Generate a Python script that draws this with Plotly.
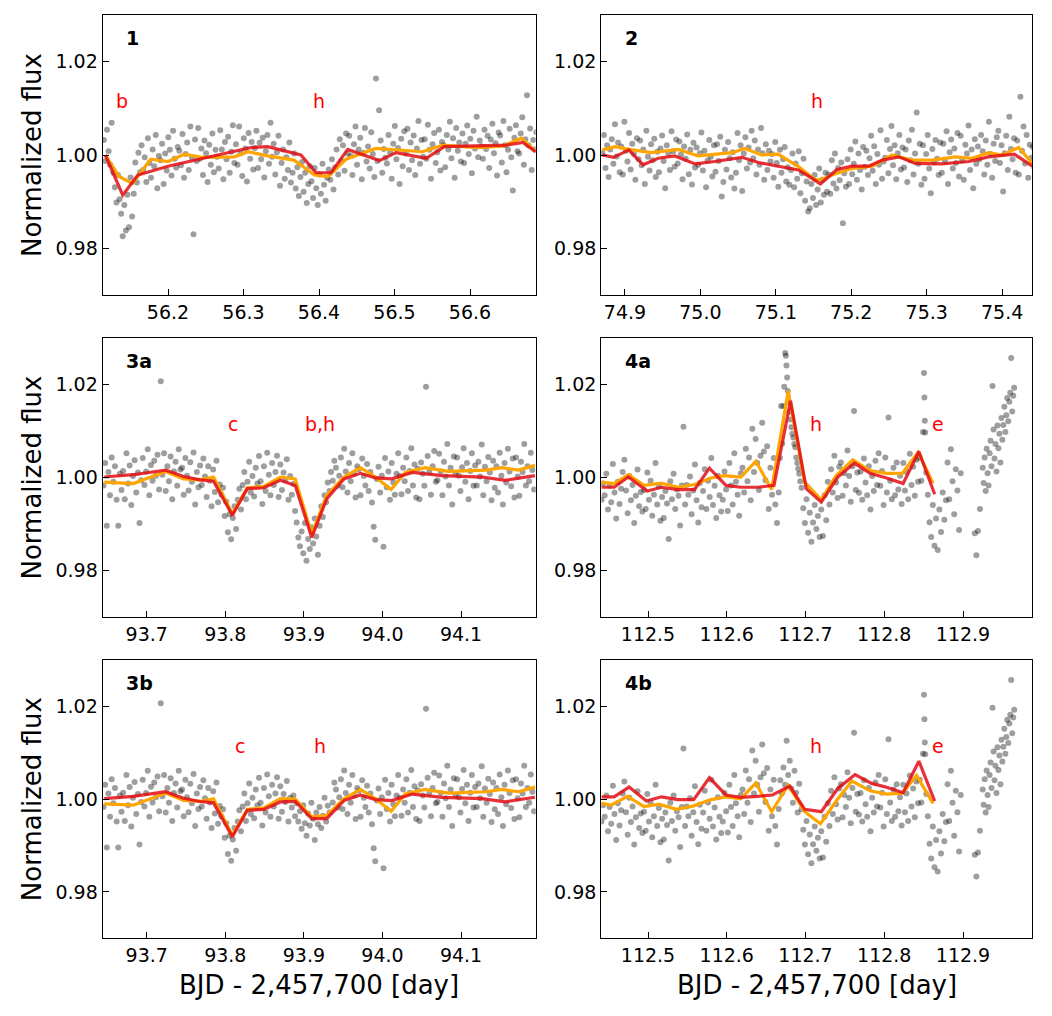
import plotly.graph_objects as go
from plotly.subplots import make_subplots

# ---------------- Panel 1 data ----------------
P1_T = [56.1150,56.1171,56.1192,56.1213,56.1233,56.1254,56.1275,56.1296,56.1317,56.1338,56.1358,56.1379,
56.1400,56.1421,56.1442,56.1463,56.1483,56.1504,56.1525,56.1546,56.1567,56.1588,56.1608,56.1629,
56.1650,56.1671,56.1692,56.1713,56.1733,56.1754,56.1775,56.1796,56.1817,56.1838,56.1858,56.1879,
56.1900,56.1921,56.1942,56.1963,56.1983,56.2004,56.2025,56.2046,56.2067,56.2088,56.2108,56.2129,
56.2150,56.2171,56.2192,56.2213,56.2233,56.2254,56.2275,56.2296,56.2317,56.2338,56.2358,56.2379,
56.2400,56.2421,56.2442,56.2463,56.2483,56.2504,56.2525,56.2546,56.2567,56.2588,56.2608,56.2629,
56.2650,56.2671,56.2692,56.2713,56.2733,56.2754,56.2775,56.2796,56.2817,56.2838,56.2858,56.2879,
56.2900,56.2921,56.2942,56.2963,56.2983,56.3004,56.3025,56.3046,56.3067,56.3088,56.3108,56.3129,
56.3150,56.3171,56.3192,56.3213,56.3233,56.3254,56.3275,56.3296,56.3317,56.3338,56.3358,56.3379,
56.3400,56.3421,56.3442,56.3463,56.3483,56.3504,56.3525,56.3546,56.3567,56.3588,56.3608,56.3629,
56.3650,56.3671,56.3692,56.3713,56.3733,56.3754,56.3775,56.3796,56.3817,56.3838,56.3858,56.3879,
56.3900,56.3921,56.3942,56.3963,56.3983,56.4004,56.4025,56.4046,56.4067,56.4088,56.4108,56.4129,
56.4150,56.4171,56.4192,56.4213,56.4233,56.4254,56.4275,56.4296,56.4317,56.4338,56.4358,56.4379,
56.4400,56.4421,56.4442,56.4463,56.4483,56.4504,56.4525,56.4546,56.4567,56.4588,56.4608,56.4629,
56.4650,56.4671,56.4692,56.4713,56.4733,56.4754,56.4775,56.4796,56.4817,56.4838,56.4858,56.4879,
56.4900,56.4921,56.4942,56.4963,56.4983,56.5004,56.5025,56.5046,56.5067,56.5088,56.5108,56.5129,
56.5150,56.5171,56.5192,56.5213,56.5233,56.5254,56.5275,56.5296,56.5317,56.5338,56.5358,56.5379,
56.5400,56.5421,56.5442,56.5463,56.5483,56.5504,56.5525,56.5546,56.5567,56.5588,56.5608,56.5629,
56.5650,56.5671,56.5692,56.5713,56.5733,56.5754,56.5775,56.5796,56.5817,56.5838,56.5858,56.5879,
56.5900,56.5921,56.5942,56.5963,56.5983,56.6004,56.6025,56.6046,56.6067,56.6088,56.6108,56.6129,
56.6150,56.6171,56.6192,56.6213,56.6233,56.6254,56.6275,56.6296,56.6317,56.6338,56.6358,56.6379,
56.6400,56.6421,56.6442,56.6463,56.6483,56.6504,56.6525,56.6546,56.6567,56.6588,56.6608,56.6629,
56.6650,56.6671,56.6692,56.6713,56.6733,56.6754,56.6775,56.6796,56.6817,56.6838,56.6858,56.6879]
P1_F = [1.0032,0.9987,1.0054,1.0008,0.9979,1.0069,0.9962,0.9931,0.9898,0.9957,0.9905,0.9874,
0.9826,0.9893,0.9838,0.9915,0.9845,0.9952,0.9868,0.9917,0.9984,0.9941,1.0005,0.9963,
1.0021,0.9968,0.9995,0.9942,1.0036,0.9983,0.9951,1.0012,0.9976,1.0043,0.9929,0.9998,
0.9989,1.0024,0.9938,1.0003,0.9967,1.0038,1.0011,0.9956,1.0052,0.9992,0.9973,1.0017,
1.0009,0.9978,1.0045,0.9951,1.0002,1.0027,0.9968,1.0061,0.9994,0.9830,1.0033,0.9987,
1.0058,0.9992,1.0014,0.9957,1.0031,1.0004,0.9942,1.0022,0.9979,1.0046,0.9963,1.0011,
0.9996,0.9971,1.0053,1.0012,0.9948,1.0028,0.9991,1.0039,0.9962,1.0007,1.0064,0.9983,
1.0023,0.9979,1.0061,1.0004,0.9955,1.0036,1.0014,0.9943,1.0047,0.9992,1.0028,0.9969,
1.0015,1.0052,0.9972,1.0026,0.9991,1.0037,0.9952,1.0008,1.0043,0.9981,1.0069,0.9996,
1.0024,0.9958,1.0006,1.0041,0.9934,0.9983,1.0012,0.9949,0.9995,0.9968,1.0027,0.9941,
0.9962,1.0003,0.9928,0.9974,0.9912,0.9953,0.9985,0.9921,0.9962,0.9897,0.9938,0.9976,
0.9944,0.9908,0.9972,0.9929,0.9893,0.9958,0.9917,0.9981,0.9936,0.9902,0.9951,0.9969,
0.9947,0.9991,0.9926,0.9973,1.0012,0.9958,1.0034,0.9987,1.0021,0.9966,1.0046,1.0003,
1.0041,0.9998,0.9957,1.0023,1.0061,0.9979,1.0012,1.0037,0.9948,1.0005,1.0058,0.9986,
1.0018,0.9971,1.0049,1.0002,0.9953,1.0164,0.9987,1.0096,1.0031,0.9962,1.0013,0.9994,
0.9982,1.0043,1.0006,0.9949,1.0024,1.0062,0.9991,1.0015,0.9938,1.0035,0.9976,1.0051,
1.0003,1.0056,0.9968,1.0027,0.9989,1.0042,0.9957,1.0014,1.0073,0.9981,1.0032,0.9996,
1.0034,0.9992,1.0065,1.0011,0.9949,1.0023,1.0047,0.9983,1.0006,1.0054,0.9967,1.0028,
1.0021,0.9974,1.0043,1.0012,1.0071,0.9993,1.0036,0.9951,1.0058,1.0009,1.0027,0.9986,
1.0046,0.9983,1.0024,1.0063,1.0002,1.0035,0.9961,1.0052,1.0014,1.0082,0.9995,1.0031,
1.0019,0.9992,1.0054,1.0013,1.0041,0.9972,1.0033,1.0067,1.0004,1.0025,0.9956,1.0048,
1.0042,0.9984,1.0073,1.0021,0.9963,1.0011,1.0056,0.9995,0.9924,1.0037,1.0064,1.0008,
1.0003,1.0046,1.0081,0.9979,1.0034,1.0128,1.0021,1.0057,0.9968,1.0032,1.0012,1.0049]
R1_T = [56.117,56.140,56.160,56.200,56.266,56.310,56.332,56.376,56.396,56.416,56.438,56.480,56.502,56.542,56.566,56.608,56.648,56.670,56.687]
R1_F = [1.0000,0.9914,0.9957,0.9976,1.0000,1.0016,1.0018,1.0000,0.9962,0.9962,1.0012,0.9988,1.0005,0.9993,1.0018,1.0019,1.0021,1.0027,1.0007]
O1_T = [56.117,56.135,56.153,56.177,56.200,56.222,56.244,56.288,56.306,56.332,56.367,56.394,56.412,56.436,56.475,56.537,56.564,56.608,56.643,56.668,56.687]
O1_F = [1.0000,0.9954,0.9939,0.9991,0.9986,1.0002,0.9995,0.9996,1.0007,0.9998,0.9989,0.9957,0.9954,0.9991,1.0014,1.0007,1.0021,1.0016,1.0019,1.0036,1.0007]

# ---------------- Panel 2 data ----------------
P2_T = [74.8700,74.8721,74.8742,74.8763,74.8783,74.8804,74.8825,74.8846,74.8867,74.8888,74.8908,74.8929,
74.8950,74.8971,74.8992,74.9013,74.9033,74.9054,74.9075,74.9096,74.9117,74.9138,74.9158,74.9179,
74.9200,74.9221,74.9242,74.9263,74.9283,74.9304,74.9325,74.9346,74.9367,74.9388,74.9408,74.9429,
74.9450,74.9471,74.9492,74.9513,74.9533,74.9554,74.9575,74.9596,74.9617,74.9638,74.9658,74.9679,
74.9700,74.9721,74.9742,74.9763,74.9783,74.9804,74.9825,74.9846,74.9867,74.9888,74.9908,74.9929,
74.9950,74.9971,74.9992,75.0013,75.0033,75.0054,75.0075,75.0096,75.0117,75.0138,75.0158,75.0179,
75.0200,75.0221,75.0242,75.0263,75.0283,75.0304,75.0325,75.0346,75.0367,75.0388,75.0408,75.0429,
75.0450,75.0471,75.0492,75.0513,75.0533,75.0554,75.0575,75.0596,75.0617,75.0638,75.0658,75.0679,
75.0700,75.0721,75.0742,75.0763,75.0783,75.0804,75.0825,75.0846,75.0867,75.0888,75.0908,75.0929,
75.0950,75.0971,75.0992,75.1013,75.1033,75.1054,75.1075,75.1096,75.1117,75.1138,75.1158,75.1179,
75.1200,75.1221,75.1242,75.1263,75.1283,75.1304,75.1325,75.1346,75.1367,75.1388,75.1408,75.1429,
75.1450,75.1471,75.1492,75.1513,75.1533,75.1554,75.1575,75.1596,75.1617,75.1638,75.1658,75.1679,
75.1700,75.1721,75.1742,75.1763,75.1783,75.1804,75.1825,75.1846,75.1867,75.1888,75.1908,75.1929,
75.1950,75.1971,75.1992,75.2013,75.2033,75.2054,75.2075,75.2096,75.2117,75.2138,75.2158,75.2179,
75.2200,75.2221,75.2242,75.2263,75.2283,75.2304,75.2325,75.2346,75.2367,75.2388,75.2408,75.2429,
75.2450,75.2471,75.2492,75.2513,75.2533,75.2554,75.2575,75.2596,75.2617,75.2638,75.2658,75.2679,
75.2700,75.2721,75.2742,75.2763,75.2783,75.2804,75.2825,75.2846,75.2867,75.2888,75.2908,75.2929,
75.2950,75.2971,75.2992,75.3013,75.3033,75.3054,75.3075,75.3096,75.3117,75.3138,75.3158,75.3179,
75.3200,75.3221,75.3242,75.3263,75.3283,75.3304,75.3325,75.3346,75.3367,75.3388,75.3408,75.3429,
75.3450,75.3471,75.3492,75.3513,75.3533,75.3554,75.3575,75.3596,75.3617,75.3638,75.3658,75.3679,
75.3700,75.3721,75.3742,75.3763,75.3783,75.3804,75.3825,75.3846,75.3867,75.3888,75.3908,75.3929,
75.3950,75.3971,75.3992,75.4013,75.4033,75.4054,75.4075,75.4096,75.4117,75.4138,75.4158,75.4179,
75.4200,75.4221,75.4242,75.4263,75.4283,75.4304,75.4325,75.4346,75.4367,75.4388,75.4408,75.4429]
P2_F = [1.0004,1.0043,0.9972,1.0021,0.9953,1.0012,1.0034,0.9981,1.0066,0.9997,1.0027,0.9963,
1.0018,0.9958,1.0071,1.0009,0.9986,1.0047,0.9969,1.0024,1.0002,0.9947,1.0036,0.9991,
1.0031,0.9978,1.0012,0.9938,1.0052,0.9996,0.9967,1.0023,0.9989,1.0035,0.9953,1.0007,
0.9963,1.0014,1.0042,0.9987,0.9929,1.0021,1.0003,0.9968,1.0051,1.0008,0.9975,1.0033,
0.9982,1.0029,1.0001,0.9948,1.0018,0.9992,1.0044,0.9959,1.0011,0.9937,1.0026,0.9973,
1.0016,0.9979,1.0004,1.0048,0.9967,1.0009,0.9931,0.9988,1.0032,0.9996,0.9954,1.0021,
0.9964,1.0023,0.9987,1.0039,0.9911,0.9942,1.0011,0.9969,1.0028,0.9993,0.9952,1.0006,
0.9928,0.9962,1.0047,0.9989,1.0021,0.9923,1.0003,1.0038,0.9971,1.0016,0.9984,1.0052,
0.9993,1.0031,0.9958,1.0012,0.9979,1.0058,1.0004,0.9947,1.0023,0.9968,1.0009,0.9986,
1.0002,0.9951,1.0028,0.9983,0.9932,1.0011,0.9962,0.9991,1.0017,0.9943,0.9974,0.9936,
0.9968,1.0003,0.9931,0.9982,0.9949,1.0008,0.9918,0.9961,0.9992,0.9902,0.9943,0.9879,
0.9886,0.9938,0.9908,0.9957,0.9893,0.9926,0.9971,0.9898,0.9947,0.9915,0.9962,0.9921,
0.9958,0.9917,0.9989,0.9939,1.0003,0.9928,0.9972,0.9946,0.9984,0.9854,0.9961,0.9932,
0.9991,0.9938,1.0012,0.9959,0.9981,1.0029,0.9947,1.0003,0.9968,0.9926,1.0017,0.9975,
1.0009,0.9957,0.9993,1.0041,0.9966,1.0019,0.9938,1.0002,0.9979,1.0053,0.9949,0.9986,
0.9994,1.0032,0.9961,1.0013,1.0062,0.9978,1.0021,0.9948,1.0004,1.0043,0.9969,1.0016,
0.9973,1.0012,0.9942,1.0031,0.9989,1.0054,0.9958,1.0003,1.0091,0.9981,1.0024,0.9936,
1.0021,0.9949,1.0002,1.0043,0.9971,0.9918,1.0013,0.9984,1.0032,0.9992,0.9957,1.0027,
0.9962,1.0024,0.9987,1.0051,0.9938,1.0006,1.0033,0.9971,1.0014,0.9983,1.0047,0.9954,
1.0041,0.9989,0.9947,1.0022,1.0003,1.0063,0.9968,1.0012,0.9929,1.0034,0.9981,1.0018,
0.9991,1.0043,1.0008,0.9958,1.0031,0.9979,1.0071,1.0002,0.9951,1.0024,0.9987,1.0038,
1.0052,0.9983,1.0021,0.9922,1.0004,1.0041,0.9968,1.0082,1.0013,0.9991,1.0036,0.9962,
1.0031,0.9958,1.0125,1.0009,1.0061,0.9982,1.0043,0.9951,1.0022,0.9994,1.0017,0.9972]
R2_T = [74.870,74.885,74.905,74.924,74.944,74.966,74.993,75.019,75.055,75.077,75.103,75.130,75.148,75.159,75.181,75.201,75.223,75.241,75.263,75.285,75.320,75.356,75.382,75.416,75.440]
R2_F = [1.0000,0.9995,1.0011,0.9979,0.9993,0.9998,0.9981,0.9986,0.9995,0.9984,0.9976,0.9968,0.9950,0.9938,0.9969,0.9976,0.9976,0.9989,0.9996,0.9982,0.9981,0.9986,0.9996,1.0002,0.9976]
O2_T = [74.870,74.887,74.905,74.935,74.971,74.997,75.042,75.059,75.081,75.103,75.130,75.152,75.161,75.179,75.201,75.228,75.254,75.280,75.307,75.338,75.360,75.382,75.400,75.422,75.440]
O2_F = [1.0011,1.0018,1.0012,1.0005,1.0012,0.9998,1.0005,1.0014,1.0000,1.0002,0.9975,0.9947,0.9948,0.9960,0.9971,0.9976,1.0000,0.9989,0.9989,0.9996,0.9993,1.0005,1.0000,1.0016,0.9982]

# ---------------- Panel 3 data ----------------
P3_T = [93.6450,93.6471,93.6492,93.6513,93.6533,93.6554,93.6575,93.6596,93.6617,93.6638,93.6658,93.6679,
93.6700,93.6721,93.6742,93.6763,93.6783,93.6804,93.6825,93.6846,93.6867,93.6888,93.6908,93.6929,
93.6950,93.6971,93.6992,93.7013,93.7033,93.7054,93.7075,93.7096,93.7117,93.7138,93.7158,93.7179,
93.7200,93.7221,93.7242,93.7263,93.7283,93.7304,93.7325,93.7346,93.7367,93.7388,93.7408,93.7429,
93.7450,93.7471,93.7492,93.7513,93.7533,93.7554,93.7575,93.7596,93.7617,93.7638,93.7658,93.7679,
93.7700,93.7721,93.7742,93.7763,93.7783,93.7804,93.7825,93.7846,93.7867,93.7888,93.7908,93.7929,
93.7950,93.7971,93.7992,93.8013,93.8033,93.8054,93.8075,93.8096,93.8117,93.8138,93.8158,93.8179,
93.8200,93.8221,93.8242,93.8263,93.8283,93.8304,93.8325,93.8346,93.8367,93.8388,93.8408,93.8429,
93.8450,93.8471,93.8492,93.8513,93.8533,93.8554,93.8575,93.8596,93.8617,93.8638,93.8658,93.8679,
93.8700,93.8721,93.8742,93.8763,93.8783,93.8804,93.8825,93.8846,93.8867,93.8888,93.8908,93.8929,
93.8950,93.8971,93.8992,93.9013,93.9033,93.9054,93.9075,93.9096,93.9117,93.9138,93.9158,93.9179,
93.9200,93.9221,93.9242,93.9263,93.9283,93.9304,93.9325,93.9346,93.9367,93.9388,93.9408,93.9429,
93.9450,93.9471,93.9492,93.9513,93.9533,93.9554,93.9575,93.9596,93.9617,93.9638,93.9658,93.9679,
93.9700,93.9721,93.9742,93.9763,93.9783,93.9804,93.9825,93.9846,93.9867,93.9888,93.9908,93.9929,
93.9950,93.9971,93.9992,94.0013,94.0033,94.0054,94.0075,94.0096,94.0117,94.0138,94.0158,94.0179,
94.0200,94.0221,94.0242,94.0263,94.0283,94.0304,94.0325,94.0346,94.0367,94.0388,94.0408,94.0429,
94.0450,94.0471,94.0492,94.0513,94.0533,94.0554,94.0575,94.0596,94.0617,94.0638,94.0658,94.0679,
94.0700,94.0721,94.0742,94.0763,94.0783,94.0804,94.0825,94.0846,94.0867,94.0888,94.0908,94.0929,
94.0950,94.0971,94.0992,94.1013,94.1033,94.1054,94.1075,94.1096,94.1117,94.1138,94.1158,94.1179,
94.1200,94.1221,94.1242,94.1263,94.1283,94.1304,94.1325,94.1346,94.1367,94.1388,94.1408,94.1429,
94.1450,94.1471,94.1492,94.1513,94.1533,94.1554,94.1575,94.1596,94.1617,94.1638,94.1658,94.1679,
94.1700,94.1721,94.1742,94.1763,94.1783,94.1804,94.1825,94.1846,94.1867,94.1888,94.1908,94.1929]
P3_F = [0.9983,1.0031,0.9896,1.0012,0.9962,1.0043,0.9991,1.0024,0.9952,0.9896,1.0008,0.9973,
1.0014,0.9953,1.0052,0.9987,1.0026,0.9941,1.0003,1.0037,0.9968,1.0011,0.9902,0.9994,
1.0042,0.9984,1.0013,1.0061,0.9962,1.0027,0.9993,1.0036,1.0004,1.0049,0.9974,1.0207,
1.0006,1.0052,0.9971,1.0024,0.9992,1.0045,0.9953,1.0013,1.0034,0.9982,1.0061,1.0017,
1.0021,0.9963,1.0042,1.0004,0.9972,1.0033,0.9991,1.0054,0.9942,1.0012,0.9979,1.0026,
0.9984,1.0041,1.0002,0.9958,1.0024,0.9993,0.9938,1.0017,0.9969,1.0036,0.9947,0.9985,
0.9963,0.9978,0.9917,0.9948,0.9882,0.9921,0.9867,0.9913,0.9938,0.9889,0.9952,0.9976,
0.9931,0.9984,1.0012,0.9953,0.9991,1.0034,0.9968,1.0003,0.9959,1.0021,0.9987,1.0046,
0.9992,0.9943,1.0024,0.9971,1.0053,1.0006,0.9962,1.0031,0.9984,1.0012,1.0047,0.9958,
1.0028,0.9973,1.0011,0.9994,1.0039,0.9952,1.0003,0.9963,0.9986,0.9928,0.9903,0.9871,
0.9852,0.9884,0.9837,0.9902,0.9821,0.9868,0.9846,0.9893,0.9858,0.9912,0.9873,0.9834,
0.9896,0.9938,0.9915,0.9962,0.9947,0.9989,0.9971,1.0012,0.9993,1.0036,1.0021,0.9982,
1.0004,1.0043,0.9979,1.0062,1.0013,0.9968,1.0031,0.9992,1.0052,1.0008,0.9957,1.0024,
1.0018,0.9962,1.0041,1.0003,0.9983,1.0029,0.9971,1.0012,0.9946,0.9894,0.9866,0.9997,
1.0023,0.9968,1.0004,0.9851,1.0042,0.9979,1.0013,0.9952,1.0031,0.9989,0.9963,1.0008,
1.0052,1.0003,0.9964,1.0021,0.9992,1.0043,0.9971,1.0014,1.0063,0.9983,1.0028,0.9957,
1.0019,0.9953,1.0032,1.0008,0.9982,1.0195,1.0046,1.0012,0.9963,1.0024,1.0057,0.9991,
0.9994,1.0051,1.0013,0.9962,1.0034,1.0002,1.0072,0.9983,1.0021,0.9942,1.0045,1.0009,
1.0043,1.0004,0.9971,1.0022,1.0063,0.9991,1.0031,0.9953,1.0014,1.0052,0.9982,1.0026,
0.9983,1.0034,1.0002,1.0071,0.9962,1.0023,0.9992,1.0044,1.0011,0.9951,1.0036,0.9978,
1.0024,0.9968,1.0053,1.0004,0.9942,1.0031,0.9989,1.0062,1.0013,0.9981,1.0041,0.9957,
1.0043,1.0002,0.9961,1.0034,1.0012,1.0072,0.9983,1.0024,0.9992,1.0053,1.0016,0.9974]
# panel 3b: points inside the b-transit window (transit of b removed)
P3B_WIN = [93.8840, 93.9350]
P3B_T = [93.8846,93.8867,93.8888,93.8908,93.8929,93.8950,93.8971,93.8992,93.9013,93.9033,93.9054,93.9075,
93.9096,93.9117,93.9138,93.9158,93.9179,93.9200,93.9221,93.9242,93.9263,93.9283,93.9304,93.9325]
P3B_F = [0.9982,1.0008,0.9963,0.9991,0.9952,0.9974,0.9936,0.9987,0.9948,0.9921,0.9969,0.9943,
0.9992,0.9958,0.9912,0.9971,0.9946,0.9983,0.9938,0.9964,1.0003,0.9952,0.9986,0.9971]

R3A_T = [93.646,93.683,93.724,93.747,93.768,93.785,93.809,93.828,93.849,93.870,93.889,93.910,93.929,93.951,93.972,93.991,94.012,94.038,94.076,94.127,94.156,94.194]
R3A_F = [1.0001,1.0006,1.0016,1.0002,0.9995,0.9992,0.9919,0.9976,0.9978,0.9994,0.9983,0.9871,0.9954,0.9997,1.0009,0.9999,0.9997,1.0011,1.0004,1.0001,0.9994,1.0004]
O3A_T = [93.646,93.683,93.724,93.747,93.768,93.785,93.809,93.828,93.849,93.870,93.889,93.910,93.929,93.951,93.972,93.991,94.011,94.029,94.054,94.084,94.132,94.152,94.173,94.194]
O3A_F = [0.9990,0.9987,1.0013,0.9997,0.9995,1.0001,0.9922,0.9978,0.9981,1.0001,0.9997,0.9878,0.9961,1.0001,1.0021,1.0001,0.9974,1.0011,1.0021,1.0013,1.0016,1.0021,1.0016,1.0026]
R3B_T = [93.646,93.683,93.724,93.747,93.768,93.785,93.809,93.828,93.849,93.870,93.889,93.910,93.929,93.951,93.972,93.991,94.012,94.038,94.076,94.127,94.156,94.194]
R3B_F = [1.0001,1.0006,1.0016,1.0002,0.9995,0.9992,0.9919,0.9976,0.9978,0.9994,0.9995,0.9958,0.9958,0.9997,1.0009,0.9999,0.9997,1.0011,1.0004,1.0001,0.9994,1.0004]
O3B_T = [93.646,93.683,93.724,93.747,93.768,93.785,93.809,93.828,93.849,93.870,93.889,93.910,93.929,93.951,93.972,93.991,94.011,94.029,94.054,94.084,94.132,94.152,94.173,94.194]
O3B_F = [0.9990,0.9987,1.0013,0.9997,0.9995,1.0001,0.9922,0.9978,0.9981,1.0001,1.0000,0.9962,0.9965,1.0001,1.0021,1.0001,0.9974,1.0011,1.0021,1.0013,1.0016,1.0021,1.0016,1.0026]

# ---------------- Panel 4 data ----------------
P4_T = [112.4410,112.4430,
112.4450,112.4471,112.4492,112.4513,112.4533,112.4554,112.4575,112.4596,112.4617,112.4638,112.4658,112.4679,
112.4700,112.4721,112.4742,112.4763,112.4783,112.4804,112.4825,112.4846,112.4867,112.4888,112.4908,112.4929,
112.4950,112.4971,112.4992,112.5013,112.5033,112.5054,112.5075,112.5096,112.5117,112.5138,112.5158,112.5179,
112.5200,112.5221,112.5242,112.5263,112.5283,112.5304,112.5325,112.5346,112.5367,112.5388,112.5408,112.5429,
112.5450,112.5471,112.5492,112.5513,112.5533,112.5554,112.5575,112.5596,112.5617,112.5638,112.5658,112.5679,
112.5700,112.5721,112.5742,112.5763,112.5783,112.5804,112.5825,112.5846,112.5867,112.5888,112.5908,112.5929,
112.5950,112.5971,112.5992,112.6013,112.6033,112.6054,112.6075,112.6096,112.6117,112.6138,112.6158,112.6179,
112.6200,112.6221,112.6242,112.6263,112.6283,112.6304,112.6325,112.6346,112.6367,112.6388,112.6408,112.6429,
112.6450,112.6471,112.6492,112.6513,112.6533,112.6554,112.6575,112.6596,112.6617,112.6638,
112.6660,112.6675,112.6690,112.6705,112.6718,112.6730,112.6742,112.6750,112.6758,112.6767,112.6775,112.6785,
112.6796,112.6808,112.6821,112.6833,112.6846,112.6858,112.6871,112.6883,112.6896,112.6908,112.6921,112.6933,
112.6950,112.6971,112.6992,112.7013,112.7033,112.7054,112.7075,112.7096,112.7117,112.7138,112.7158,112.7179,
112.7200,112.7221,112.7242,112.7263,112.7283,112.7304,112.7325,112.7346,112.7367,112.7388,112.7408,112.7429,
112.7450,112.7471,112.7492,112.7513,112.7533,112.7554,112.7575,112.7596,112.7617,112.7638,112.7658,112.7679,
112.7700,112.7721,112.7742,112.7763,112.7783,112.7804,112.7825,112.7846,112.7867,112.7888,112.7908,112.7929,
112.7950,112.7971,112.7992,112.8013,112.8033,112.8054,112.8075,112.8096,112.8117,112.8138,112.8158,112.8179,
112.8200,112.8221,112.8242,112.8263,112.8283,112.8304,112.8325,112.8346,112.8367,112.8388,112.8408,112.8429,
112.8450,112.8471,112.8492,112.8505,112.8510,112.8515,112.8520,112.8533,
112.8554,112.8575,112.8596,112.8617,112.8638,112.8658,112.8679,112.8700,112.8721,112.8742,112.8763,112.8783,
112.8804,112.8825,112.8846,112.8867,112.8888,112.8908,112.8929,112.8950,112.8971,
112.9150,112.9170,112.9190,112.9215,
112.9250,112.9262,112.9275,112.9288,112.9300,112.9312,112.9325,112.9338,112.9350,112.9362,112.9375,
112.9388,112.9400,112.9412,112.9425,112.9438,112.9450,112.9462,112.9475,112.9488,112.9500,112.9512,
112.9525,112.9538,112.9550,112.9562,112.9575,112.9588,112.9600,112.9612,112.9625,112.9638,112.9650]
P4_F = [0.9952,0.9987,
0.9962,1.0008,0.9931,0.9983,0.9947,1.0029,0.9968,0.9912,0.9991,0.9943,0.9976,1.0012,
1.0038,0.9972,0.9923,1.0003,0.9951,0.9984,0.9902,0.9961,1.0017,0.9938,0.9969,0.9927,
0.9973,0.9932,1.0011,0.9952,0.9993,0.9918,0.9963,1.0031,0.9942,0.9981,0.9907,0.9958,
0.9913,0.9971,0.9944,0.9868,0.9992,0.9953,1.0008,0.9932,0.9974,0.9961,0.9897,0.9983,
1.0109,0.9942,0.9984,0.9963,1.0002,0.9921,0.9972,1.0028,0.9951,0.9903,0.9988,0.9936,
0.9971,1.0018,0.9932,0.9993,0.9958,1.0042,0.9941,0.9982,0.9913,1.0004,0.9962,0.9927,
0.9952,1.0013,0.9974,0.9928,1.0031,0.9983,0.9942,1.0052,0.9991,0.9963,0.9918,1.0009,
1.0021,0.9968,1.0062,0.9992,1.0043,0.9951,1.0105,1.0012,1.0083,1.0031,0.9973,1.0047,
1.0118,1.0056,0.9994,1.0067,0.9932,1.0021,0.9963,1.0042,0.9942,0.9902,
0.9968,1.0042,1.0154,1.0073,1.0154,1.0195,1.0268,1.0262,1.0241,1.0215,1.0186,1.0163,
1.0141,1.0125,1.0108,1.0094,1.0086,1.0072,1.0065,1.0043,1.0031,1.0019,1.0008,0.9992,
0.9978,0.9934,0.9902,0.9953,0.9881,0.9924,0.9862,0.9903,0.9941,0.9889,0.9917,0.9872,
0.9931,0.9874,0.9962,0.9908,0.9991,0.9942,1.0018,0.9968,1.0047,0.9989,0.9956,1.0023,
1.0032,0.9961,1.0009,0.9983,1.0058,1.0003,0.9948,1.0024,1.0143,0.9973,1.0011,0.9967,
1.0013,0.9952,1.0041,0.9989,0.9962,1.0024,0.9931,1.0003,0.9971,1.0036,0.9984,1.0052,
0.9982,1.0014,0.9941,1.0043,0.9968,1.0129,0.9993,0.9953,1.0021,0.9962,1.0032,0.9974,
1.0004,0.9943,1.0031,0.9972,1.0012,0.9953,1.0051,0.9984,1.0023,0.9961,1.0038,0.9991,
1.0042,0.9993,1.0098,1.0225,1.0172,1.0122,1.0097,1.0011,
0.9963,0.9904,0.9872,0.9941,0.9853,0.9912,0.9844,0.9931,0.9883,0.9968,0.9909,0.9951,
1.0032,0.9953,1.0061,0.9992,0.9921,1.0018,0.9972,0.9887,1.0009,
0.9880,0.9833,0.9885,0.9932,
1.0021,0.9988,1.0043,0.9971,1.0062,1.0009,0.9983,1.0052,1.0079,1.0024,1.0197,
1.0103,1.0041,1.0072,1.0013,1.0112,1.0063,1.0094,1.0032,1.0128,1.0081,1.0113,
1.0152,1.0098,1.0134,1.0171,1.0121,1.0163,1.0182,1.0257,1.0142,1.0176,1.0193]
# panel 4b: points inside the flare window (flare removed)
P4B_WIN = [112.6655, 112.6940]
P4B_T = [112.6660,112.6680,112.6700,112.6720,112.6740,112.6760,112.6780,112.6800,112.6820,112.6840,112.6860,112.6880,112.6900,112.6920]
P4B_F = [0.9979,1.0041,1.0012,1.0068,1.0031,1.0126,1.0052,1.0083,1.0023,0.9992,1.0061,1.0014,0.9971,1.0033]

R4A_T = [112.441,112.457,112.475,112.499,112.517,112.538,112.559,112.578,112.599,112.618,112.639,112.660,112.681,112.701,112.720,112.741,112.762,112.782,112.803,112.824,112.844,112.864]
R4A_F = [0.9979,0.9979,1.0001,0.9971,0.9979,0.9974,0.9974,1.0020,0.9983,0.9979,0.9979,0.9983,1.0165,0.9976,0.9947,1.0001,1.0031,1.0009,0.9999,0.9987,1.0056,0.9964]
O4A_T = [112.441,112.457,112.475,112.495,112.517,112.538,112.559,112.580,112.597,112.618,112.637,112.657,112.678,112.699,112.720,112.739,112.760,112.782,112.803,112.823,112.843,112.862]
O4A_F = [0.9990,0.9987,1.0006,0.9983,0.9988,0.9979,0.9985,0.9999,1.0004,1.0001,1.0035,0.9974,1.0186,0.9990,0.9952,1.0004,1.0038,1.0015,1.0009,1.0009,1.0054,0.9988]
R4B_T = [112.441,112.457,112.476,112.498,112.517,112.538,112.558,112.578,112.599,112.618,112.639,112.658,112.680,112.699,112.720,112.741,112.763,112.784,112.804,112.824,112.844,112.864]
R4B_F = [1.0005,1.0005,1.0026,0.9996,1.0005,0.9999,0.9999,1.0046,1.0009,1.0004,1.0006,1.0009,1.0028,0.9978,0.9973,1.0023,1.0053,1.0034,1.0025,1.0014,1.0082,0.9996]
O4B_T = [112.441,112.453,112.474,112.495,112.514,112.536,112.557,112.580,112.599,112.618,112.637,112.657,112.678,112.699,112.719,112.739,112.759,112.782,112.803,112.823,112.841,112.862]
O4B_F = [0.9991,0.9987,1.0006,0.9984,0.9989,0.9978,0.9985,0.9999,1.0005,1.0001,1.0035,0.9973,1.0030,0.9973,0.9947,0.9996,1.0039,1.0018,1.0011,1.0013,1.0051,0.9991]

# ---------------- Axis settings / labels ----------------
X_RANGES = {"1": [56.1135, 56.687], "2": [74.8686, 75.440], "3": [93.644, 94.195], "4": [112.4407, 112.988]}
X_TICKS = {"1": [56.2, 56.3, 56.4, 56.5, 56.6], "2": [74.9, 75.0, 75.1, 75.2, 75.3, 75.4],
           "3": [93.7, 93.8, 93.9, 94.0, 94.1], "4": [112.5, 112.6, 112.7, 112.8, 112.9]}
Y_RANGE = [0.97, 1.03]
Y_TICKS = [0.98, 1.00, 1.02]
NOTE_Y = 1.0115
NOTES = {"1": [("b", 56.139), ("h", 56.400)], "2": [("h", 75.154)],
         "3a": [("c", 93.810), ("b,h", 93.921)], "4a": [("h", 112.713), ("e", 112.868)],
         "3b": [("c", 93.819), ("h", 93.920)], "4b": [("h", 112.713), ("e", 112.868)]}
Y_LABEL = "Normalized flux"
X_LABEL = "BJD - 2,457,700 [day]"


def replace_window(t, f, win, t_new, f_new):
    keep = [(a, b) for a, b in zip(t, f) if not (win[0] <= a < win[1])]
    keep += list(zip(t_new, f_new))
    keep.sort()
    return [a for a, _ in keep], [b for _, b in keep]


P3B_ALL_T, P3B_ALL_F = replace_window(P3_T, P3_F, P3B_WIN, P3B_T, P3B_F)
P4B_ALL_T, P4B_ALL_F = replace_window(P4_T, P4_F, P4B_WIN, P4B_T, P4B_F)

panels = [
    dict(row=1, col=1, label="1", key="1", t=P1_T, f=P1_F, rt=R1_T, rf=R1_F, ot=O1_T, of=O1_F),
    dict(row=1, col=2, label="2", key="2", t=P2_T, f=P2_F, rt=R2_T, rf=R2_F, ot=O2_T, of=O2_F),
    dict(row=2, col=1, label="3a", key="3", t=P3_T, f=P3_F, rt=R3A_T, rf=R3A_F, ot=O3A_T, of=O3A_F),
    dict(row=2, col=2, label="4a", key="4", t=P4_T, f=P4_F, rt=R4A_T, rf=R4A_F, ot=O4A_T, of=O4A_F),
    dict(row=3, col=1, label="3b", key="3", t=P3B_ALL_T, f=P3B_ALL_F, rt=R3B_T, rf=R3B_F, ot=O3B_T, of=O3B_F),
    dict(row=3, col=2, label="4b", key="4", t=P4B_ALL_T, f=P4B_ALL_F, rt=R4B_T, rf=R4B_F, ot=O4B_T, of=O4B_F),
]

W, H = 1052, 1016
COL_DOM = {1: [102.7 / W, 535.7 / W], 2: [601.3 / W, 1032.3 / W]}
ROW_PX = {1: (15, 295), 2: (338, 617), 3: (660, 938.3)}
ROW_DOM = {r: [1 - b / H, 1 - t / H] for r, (t, b) in ROW_PX.items()}

FONT = "DejaVu Sans"
fig = make_subplots(rows=3, cols=2)

annotations = []
for i, p in enumerate(panels):
    n = i + 1
    r, c = p["row"], p["col"]
    fig.add_trace(go.Scatter(x=p["t"], y=p["f"], mode="markers",
                             marker=dict(color="black", size=6, opacity=0.38, line=dict(width=0)),
                             showlegend=False, hoverinfo="skip"), row=r, col=c)
    fig.add_trace(go.Scatter(x=p["ot"], y=p["of"], mode="lines",
                             line=dict(color="orange", width=3.2), showlegend=False, hoverinfo="skip"),
                  row=r, col=c)
    fig.add_trace(go.Scatter(x=p["rt"], y=p["rf"], mode="lines", opacity=0.85,
                             line=dict(color="rgb(228,12,20)", width=3.2), showlegend=False, hoverinfo="skip"),
                  row=r, col=c)
    xa = "xaxis" if n == 1 else f"xaxis{n}"
    ya = "yaxis" if n == 1 else f"yaxis{n}"
    common = dict(showline=True, linecolor="black", linewidth=1.3, mirror=True,
                  ticks="inside", ticklen=6, tickwidth=1.3, tickcolor="black",
                  showgrid=False, zeroline=False,
                  tickfont=dict(family=FONT, size=19, color="black"))
    fig.update_layout({
        xa: dict(domain=COL_DOM[c], range=X_RANGES[p["key"]], tickvals=X_TICKS[p["key"]],
                 tickformat=".1f", **common),
        ya: dict(domain=ROW_DOM[r], range=Y_RANGE, tickvals=Y_TICKS, tickformat=".2f", **common),
    })
    xr = "x" if n == 1 else f"x{n}"
    yr = "y" if n == 1 else f"y{n}"
    annotations.append(dict(text=f"<b>{p['label']}</b>", xref=f"{xr} domain", yref=f"{yr} domain",
                            x=0.05, y=0.918, xanchor="left", yanchor="middle", showarrow=False,
                            font=dict(family=FONT, size=19, color="black")))
    for txt, xv in NOTES[p["label"]]:
        annotations.append(dict(text=txt, xref=xr, yref=yr, x=xv, y=NOTE_Y, xanchor="center",
                                yanchor="middle", showarrow=False,
                                font=dict(family=FONT, size=19, color="red")))

for r in (1, 2, 3):
    t, b = ROW_PX[r]
    annotations.append(dict(text=Y_LABEL, xref="paper", yref="paper", x=32 / W, y=1 - (t + b) / 2 / H,
                            xanchor="center", yanchor="middle", textangle=-90, showarrow=False,
                            font=dict(family=FONT, size=26, color="black")))
for c in (1, 2):
    annotations.append(dict(text=X_LABEL, xref="paper", yref="paper",
                            x=(COL_DOM[c][0] + COL_DOM[c][1]) / 2, y=1 - 985 / H,
                            xanchor="center", yanchor="middle", showarrow=False,
                            font=dict(family=FONT, size=26, color="black")))

fig.update_layout(width=W, height=H, margin=dict(l=0, r=0, t=0, b=0),
                  plot_bgcolor="white", paper_bgcolor="white",
                  annotations=annotations, showlegend=False, hovermode=False)

fig.write_html("out.html")
